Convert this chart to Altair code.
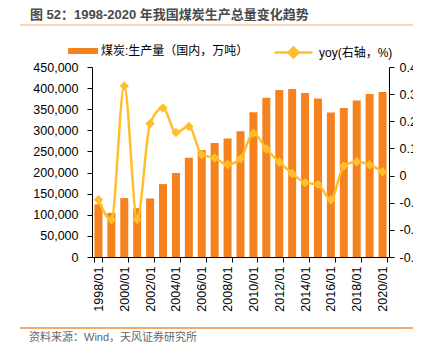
import altair as alt
import pandas as pd

years = ["1998/01", "1999/01", "2000/01", "2001/01", "2002/01", "2003/01", "2004/01",
         "2005/01", "2006/01", "2007/01", "2008/01", "2009/01", "2010/01", "2011/01",
         "2012/01", "2013/01", "2014/01", "2015/01", "2016/01", "2017/01", "2018/01",
         "2019/01", "2020/01"]
label_years = ["1998/01", "2000/01", "2002/01", "2004/01", "2006/01", "2008/01",
               "2010/01", "2012/01", "2014/01", "2016/01", "2018/01", "2020/01"]
production = [125000, 104500, 139500, 115700, 138700, 172700, 198900, 235200, 253500,
              270100, 280400, 297900, 343000, 377000, 395300, 397700, 388200, 375400,
              342100, 352600, 370600, 385800, 391000]
yoy = [-0.089, -0.163, 0.330, -0.161, 0.192, 0.249, 0.159, 0.181, 0.077, 0.065, 0.041,
       0.062, 0.156, 0.098, 0.050, 0.008, -0.026, -0.033, -0.089, 0.035, 0.051, 0.040,
       0.014]
left_ticks = [0, 50000, 100000, 150000, 200000, 250000, 300000, 350000, 400000, 450000]
right_ticks = [-0.3, -0.2, -0.1, 0, 0.1, 0.2, 0.3, 0.4]

bar_name = "煤炭:生产量（国内，万吨）"
line_name = "yoy(右轴，%)"
title_text = "图 52：1998-2020 年我国煤炭生产总量变化趋势"
source_text = "资料来源：Wind，天风证券研究所"

BAR = "#F5821F"
LINE = "#FFBE2A"
FONT = "Liberation Sans, Noto Sans CJK SC, sans-serif"

df = pd.DataFrame({"year": years, "prod": production, "yoy": yoy,
                   "s1": [bar_name] * len(years), "s2": [line_name] * len(years)})
one = pd.DataFrame({"k": [0]})

x = alt.X("year:N", sort=None,
          scale=alt.Scale(paddingInner=0.38, paddingOuter=0.19),
          axis=alt.Axis(values=label_years, title=None, labelAngle=-90, tickBand="extent",
                        tickSize=5, labelPadding=4, grid=False))

bars = alt.Chart(df).mark_bar().encode(
    x=x,
    y=alt.Y("prod:Q", scale=alt.Scale(domain=[0, 450000], nice=False),
            axis=alt.Axis(values=left_ticks, title=None, tickSize=5,
                          labelPadding=9, grid=False,
                          labelExpr="format(datum.value, ',')")),
    color=alt.Color("s1:N", scale=alt.Scale(domain=[bar_name], range=[BAR]),
                    legend=alt.Legend(title=None, orient="none", legendX=-19, legendY=-26,
                                      symbolType="M-1.5,-0.3H1.5V0.3H-1.5Z", symbolSize=400,
                                      labelOffset=8, symbolStrokeWidth=0)),
)

yr = alt.Y("yoy:Q", scale=alt.Scale(domain=[-0.3, 0.4], nice=False),
           axis=alt.Axis(orient="right", values=right_ticks, title=None, tickSize=5,
                         labelPadding=5, grid=False,
                         labelExpr="'' + round(datum.value*10)/10"))
cl = alt.Color("s2:N", scale=alt.Scale(domain=[line_name], range=[LINE]),
               legend=alt.Legend(title=None, orient="none", legendX=190, legendY=-26,
                                 symbolType="M-1.9,0H1.9M-0.5,0L0,-0.5L0.5,0L0,0.5Z",
                                 symbolSize=400, symbolStrokeWidth=2.5, labelOffset=14,
                                 symbolFillColor=LINE, symbolStrokeColor=LINE))
line = alt.Chart(df).mark_line(interpolate="monotone", strokeWidth=2.5).encode(x=x, y=yr, color=cl)
pts = alt.Chart(df).mark_point(shape="diamond", filled=True, size=90, opacity=1).encode(x=x, y=yr, color=cl)
line_layer = alt.layer(line, pts)

title = alt.Chart(one).mark_text(align="left", baseline="middle", fontSize=13, fontWeight="bold",
                                 color="#4a4a4a", font=FONT).encode(
    x=alt.value(-62), y=alt.value(-52), text=alt.value(title_text))
title_rule = alt.Chart(one).mark_rule(color="#F9C9A0", strokeWidth=1.5).encode(
    x=alt.value(-72), x2=alt.value(321), y=alt.value(-42))
foot_rule = alt.Chart(one).mark_rule(color="#F28C38", strokeWidth=1.5).encode(
    x=alt.value(-72), x2=alt.value(321), y=alt.value(261))
foot = alt.Chart(one).mark_text(align="left", baseline="middle", fontSize=11,
                                color="#666666", font=FONT).encode(
    x=alt.value(-63), y=alt.value(271), text=alt.value(source_text))

chart = alt.layer(bars, line_layer, title, title_rule, foot_rule, foot).resolve_scale(
    y="independent", color="independent"
).properties(
    width=297, height=190,
    autosize=alt.AutoSizeParams(type="none"),
    padding={"left": 92, "top": 67, "right": 24, "bottom": 96},
).configure_view(strokeWidth=0).configure_axis(
    domainColor="#000000", tickColor="#000000", labelColor="#000000",
    labelFont=FONT, labelFontSize=12.5, domainWidth=1, tickWidth=1,
).configure_legend(
    labelFont=FONT, labelFontSize=12, labelColor="#000000", padding=0, columnPadding=0,
)

chart.save("out.html", embed_options={"renderer": "svg", "actions": False})
